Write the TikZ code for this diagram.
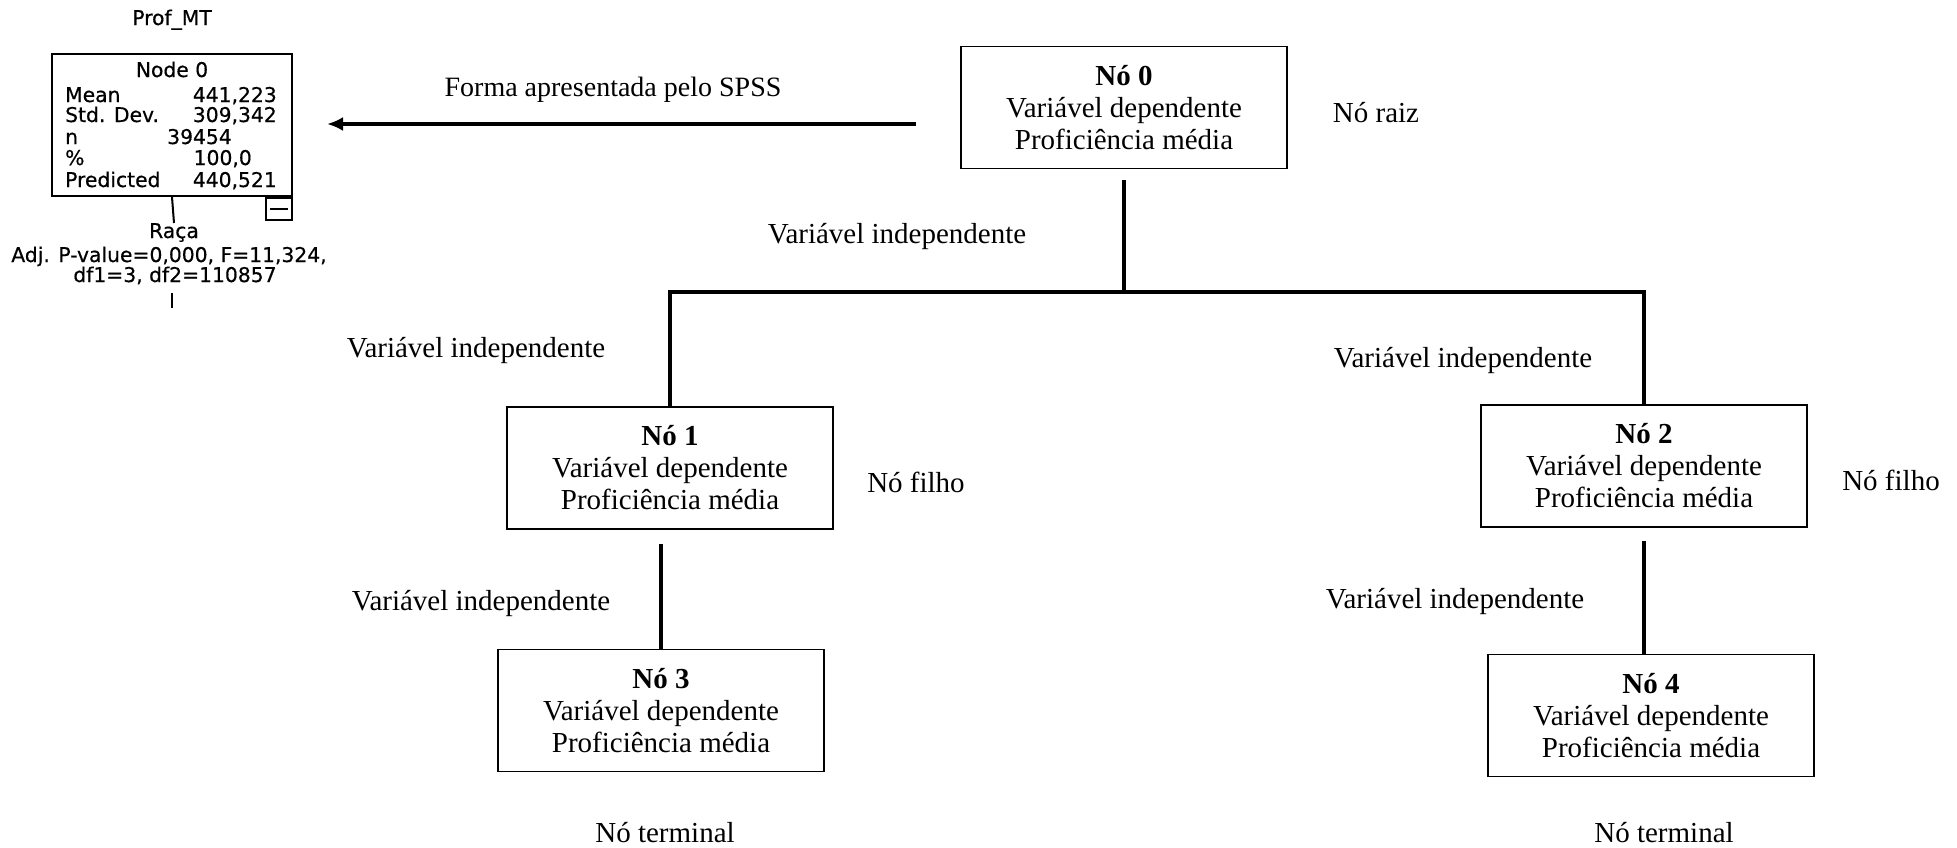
\documentclass[tikz,border=0pt]{standalone}
\usepackage{fontspec}
\setmainfont{Liberation Serif}
\newfontfamily\spssfont[FakeBold=0.5]{DejaVu Sans}
\usetikzlibrary{arrows.meta,calc}
\begin{document}
\begin{tikzpicture}[x=1pt,y=-1pt,
  treebox/.style={draw, line width=1.6pt, minimum width=326pt, minimum height=122pt,
    align=center, inner sep=0pt, font=\fontsize{29}{32}\selectfont},
  link/.style={line width=3.6pt},
  caption/.style={inner sep=0pt, anchor=base, font=\fontsize{29}{32}\selectfont},
  stat/.style={inner sep=0pt, font=\spssfont\fontsize{20.3}{22}\selectfont},
  statline/.style={line width=2pt}
]
\useasboundingbox (0,0) rectangle (1957,847);

% decision tree boxes
\node[treebox] (n0) at (1124,107.5) {\textbf{Nó 0}\\Variável dependente\\Proficiência média};
\node[treebox] (n1) at (670,468) {\textbf{Nó 1}\\Variável dependente\\Proficiência média};
\node[treebox] (n2) at (1644,466) {\textbf{Nó 2}\\Variável dependente\\Proficiência média};
\node[treebox] (n3) at (661,710.5) {\textbf{Nó 3}\\Variável dependente\\Proficiência média};
\node[treebox] (n4) at (1651,715.5) {\textbf{Nó 4}\\Variável dependente\\Proficiência média};

% branches
\coordinate (bar) at (0,292);
\draw[link] ($(n0.south)+(0,11)$) -- (n0.south |- bar);
\draw[link] (n1.north) -- (n1.north |- bar) -- (n2.north |- bar) -- (n2.north);
\draw[link] ($(n3.north |- n1.south)+(0,14)$) -- (n3.north);
\draw[link] ($(n2.south)+(0,13)$) -- (n2.south |- n4.north);

% captions
\node[caption] (c0) at (897,243) {Variável independente};
\node[caption] (c1) at (476,357) {Variável independente};
\node[caption] (c2) at (1463,367) {Variável independente};
\node[caption] (c3) at (481,610) {Variável independente};
\node[caption] (c4) at (1455,608) {Variável independente};
\node[caption] (root) at (1376,122) {Nó raiz};
\node[caption] (child1) at (916,492) {Nó filho};
\node[caption] (child2) at (1891,490) {Nó filho};
\node[caption] (leaf1) at (665,842) {Nó terminal};
\node[caption] (leaf2) at (1664,842) {Nó terminal};
\node[caption, font=\fontsize{28}{32}\selectfont] (spsslabel) at (613,96) {Forma apresentada pelo SPSS};

% pointer to the SPSS output
\coordinate (arrowFrom) at (916,124);
\coordinate (arrowTo) at (327,124);
\draw[line width=3.2pt, -{Latex[length=16pt,width=14pt]}] (arrowFrom) -- (arrowTo);

% SPSS tree node
\node[draw, line width=2pt, minimum width=240pt, minimum height=142pt, inner sep=0pt] (spssbox) at (172,125) {};
\node[draw, line width=1.6pt, minimum width=26pt, minimum height=22pt, inner sep=0pt, anchor=north east] (collapse) at (spssbox.south east) {};
\draw[line width=1.6pt] ($(collapse.west)+(5,0)$) -- ($(collapse.east)+(-5,0)$);

\node[stat, anchor=base] (title) at (172,25) {Prof\_MT};
\node[stat, anchor=base] (nodename) at (172,77) {Node 0};
\node[stat, anchor=base west] (kMean) at (65,102) {Mean};
\node[stat, anchor=base east] (vMean) at (277,102) {441,223};
\node[stat, anchor=base west] (kSd) at (65,122) {Std. Dev.};
\node[stat, anchor=base east] (vSd) at (277,122) {309,342};
\node[stat, anchor=base west] (kN) at (65,144) {n};
\node[stat, anchor=base east] (vN) at (232,144) {39454};
\node[stat, anchor=base west] (kPct) at (65,165) {\%};
\node[stat, anchor=base east] (vPct) at (252,165) {100,0};
\node[stat, anchor=base west] (kPred) at (65,187) {Predicted};
\node[stat, anchor=base east] (vPred) at (277,187) {440,521};
\node[stat, anchor=base] (split) at (174,238) {Raça};
\node[stat, anchor=base] (test1) at (169,262) {Adj. P-value=0,000, F=11,324,};
\node[stat, anchor=base] (test2) at (175,282) {df1=3, df2=110857};
\coordinate (stub) at (172,308);
\draw[statline] (spssbox.south) -- (split.north);
\draw[statline] ($(test2.south -| stub)+(0,8)$) -- (stub);
\end{tikzpicture}
\end{document}
